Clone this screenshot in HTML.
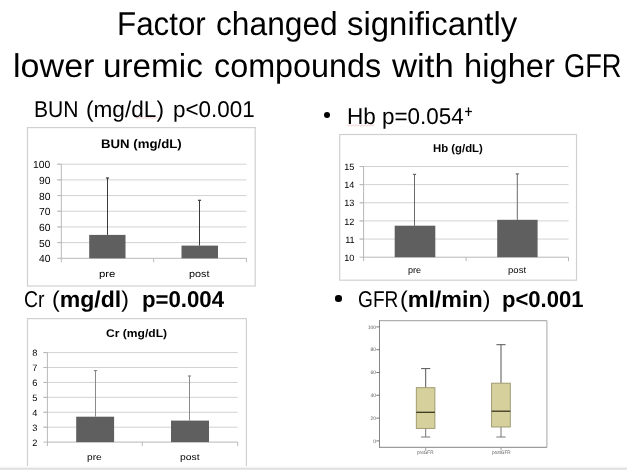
<!DOCTYPE html>
<html><head><meta charset="utf-8"><style>
html,body{margin:0;padding:0;background:#fff;}
body{width:627px;height:470px;position:relative;overflow:hidden;font-family:"Liberation Sans", sans-serif;text-rendering:geometricPrecision;}
.t{position:absolute;white-space:pre;transform-origin:0 0;}
.b{position:absolute;border-radius:50%;background:#000;}
svg{position:absolute;left:0;top:0;}
.band{position:absolute;left:0;width:627px;}
</style></head><body>
<svg width="627" height="470" viewBox="0 0 627 470">
<rect x="27.50" y="127.60" width="227.70" height="158.40" fill="#fff" stroke="#d0d0d0" stroke-width="1.2"/>
<line x1="57.30" y1="164.20" x2="246.40" y2="164.20" stroke="#d2d2d2" stroke-width="1"/>
<line x1="57.30" y1="179.88" x2="246.40" y2="179.88" stroke="#d2d2d2" stroke-width="1"/>
<line x1="57.30" y1="195.57" x2="246.40" y2="195.57" stroke="#d2d2d2" stroke-width="1"/>
<line x1="57.30" y1="211.25" x2="246.40" y2="211.25" stroke="#d2d2d2" stroke-width="1"/>
<line x1="57.30" y1="226.93" x2="246.40" y2="226.93" stroke="#d2d2d2" stroke-width="1"/>
<line x1="57.30" y1="242.62" x2="246.40" y2="242.62" stroke="#d2d2d2" stroke-width="1"/>
<line x1="57.30" y1="164.20" x2="61.30" y2="164.20" stroke="#b8b8b8" stroke-width="1"/>
<line x1="57.30" y1="179.88" x2="61.30" y2="179.88" stroke="#b8b8b8" stroke-width="1"/>
<line x1="57.30" y1="195.57" x2="61.30" y2="195.57" stroke="#b8b8b8" stroke-width="1"/>
<line x1="57.30" y1="211.25" x2="61.30" y2="211.25" stroke="#b8b8b8" stroke-width="1"/>
<line x1="57.30" y1="226.93" x2="61.30" y2="226.93" stroke="#b8b8b8" stroke-width="1"/>
<line x1="57.30" y1="242.62" x2="61.30" y2="242.62" stroke="#b8b8b8" stroke-width="1"/>
<line x1="57.30" y1="258.30" x2="61.30" y2="258.30" stroke="#b8b8b8" stroke-width="1"/>
<line x1="61.30" y1="164.20" x2="61.30" y2="262.30" stroke="#b8b8b8" stroke-width="1"/>
<line x1="61.30" y1="258.30" x2="246.40" y2="258.30" stroke="#b8b8b8" stroke-width="1"/>
<line x1="153.70" y1="258.30" x2="153.70" y2="262.30" stroke="#b8b8b8" stroke-width="1"/>
<line x1="246.40" y1="258.30" x2="246.40" y2="262.30" stroke="#b8b8b8" stroke-width="1"/>
<rect x="89.20" y="234.90" width="36.30" height="23.40" fill="#5f5f5f" stroke="none" stroke-width="1"/>
<line x1="107.50" y1="178.00" x2="107.50" y2="234.90" stroke="#3a3a3a" stroke-width="1"/>
<line x1="105.90" y1="178.00" x2="109.10" y2="178.00" stroke="#3a3a3a" stroke-width="1.2"/>
<rect x="181.50" y="245.60" width="36.50" height="12.70" fill="#5f5f5f" stroke="none" stroke-width="1"/>
<line x1="199.50" y1="200.30" x2="199.50" y2="245.60" stroke="#3a3a3a" stroke-width="1"/>
<line x1="197.90" y1="200.30" x2="201.10" y2="200.30" stroke="#3a3a3a" stroke-width="1.2"/>
<rect x="339.70" y="134.50" width="236.80" height="145.70" fill="#fff" stroke="#d0d0d0" stroke-width="1.2"/>
<line x1="359.60" y1="166.50" x2="568.50" y2="166.50" stroke="#d2d2d2" stroke-width="1"/>
<line x1="359.60" y1="184.64" x2="568.50" y2="184.64" stroke="#d2d2d2" stroke-width="1"/>
<line x1="359.60" y1="202.78" x2="568.50" y2="202.78" stroke="#d2d2d2" stroke-width="1"/>
<line x1="359.60" y1="220.92" x2="568.50" y2="220.92" stroke="#d2d2d2" stroke-width="1"/>
<line x1="359.60" y1="239.06" x2="568.50" y2="239.06" stroke="#d2d2d2" stroke-width="1"/>
<line x1="359.60" y1="166.50" x2="363.60" y2="166.50" stroke="#b8b8b8" stroke-width="1"/>
<line x1="359.60" y1="184.64" x2="363.60" y2="184.64" stroke="#b8b8b8" stroke-width="1"/>
<line x1="359.60" y1="202.78" x2="363.60" y2="202.78" stroke="#b8b8b8" stroke-width="1"/>
<line x1="359.60" y1="220.92" x2="363.60" y2="220.92" stroke="#b8b8b8" stroke-width="1"/>
<line x1="359.60" y1="239.06" x2="363.60" y2="239.06" stroke="#b8b8b8" stroke-width="1"/>
<line x1="359.60" y1="257.20" x2="363.60" y2="257.20" stroke="#b8b8b8" stroke-width="1"/>
<line x1="363.60" y1="166.50" x2="363.60" y2="261.20" stroke="#b8b8b8" stroke-width="1"/>
<line x1="363.60" y1="257.20" x2="568.50" y2="257.20" stroke="#b8b8b8" stroke-width="1"/>
<line x1="466.10" y1="257.20" x2="466.10" y2="261.20" stroke="#b8b8b8" stroke-width="1"/>
<line x1="568.50" y1="257.20" x2="568.50" y2="261.20" stroke="#b8b8b8" stroke-width="1"/>
<rect x="394.70" y="225.70" width="40.60" height="31.50" fill="#5f5f5f" stroke="none" stroke-width="1"/>
<line x1="414.50" y1="174.40" x2="414.50" y2="225.70" stroke="#6a6a6a" stroke-width="1"/>
<line x1="412.90" y1="174.40" x2="416.10" y2="174.40" stroke="#6a6a6a" stroke-width="1.2"/>
<rect x="497.20" y="219.80" width="40.40" height="37.40" fill="#5f5f5f" stroke="none" stroke-width="1"/>
<line x1="517.30" y1="173.90" x2="517.30" y2="219.80" stroke="#6a6a6a" stroke-width="1"/>
<line x1="515.70" y1="173.90" x2="518.90" y2="173.90" stroke="#6a6a6a" stroke-width="1.2"/>
<rect x="27.50" y="318.60" width="218.90" height="148.60" fill="#fff" stroke="#d0d0d0" stroke-width="1.2"/>
<line x1="43.40" y1="352.60" x2="237.70" y2="352.60" stroke="#d2d2d2" stroke-width="1"/>
<line x1="43.40" y1="367.52" x2="237.70" y2="367.52" stroke="#d2d2d2" stroke-width="1"/>
<line x1="43.40" y1="382.43" x2="237.70" y2="382.43" stroke="#d2d2d2" stroke-width="1"/>
<line x1="43.40" y1="397.35" x2="237.70" y2="397.35" stroke="#d2d2d2" stroke-width="1"/>
<line x1="43.40" y1="412.27" x2="237.70" y2="412.27" stroke="#d2d2d2" stroke-width="1"/>
<line x1="43.40" y1="427.18" x2="237.70" y2="427.18" stroke="#d2d2d2" stroke-width="1"/>
<line x1="43.40" y1="352.60" x2="47.40" y2="352.60" stroke="#b8b8b8" stroke-width="1"/>
<line x1="43.40" y1="367.52" x2="47.40" y2="367.52" stroke="#b8b8b8" stroke-width="1"/>
<line x1="43.40" y1="382.43" x2="47.40" y2="382.43" stroke="#b8b8b8" stroke-width="1"/>
<line x1="43.40" y1="397.35" x2="47.40" y2="397.35" stroke="#b8b8b8" stroke-width="1"/>
<line x1="43.40" y1="412.27" x2="47.40" y2="412.27" stroke="#b8b8b8" stroke-width="1"/>
<line x1="43.40" y1="427.18" x2="47.40" y2="427.18" stroke="#b8b8b8" stroke-width="1"/>
<line x1="43.40" y1="442.10" x2="47.40" y2="442.10" stroke="#b8b8b8" stroke-width="1"/>
<line x1="47.40" y1="352.60" x2="47.40" y2="446.10" stroke="#b8b8b8" stroke-width="1"/>
<line x1="47.40" y1="442.10" x2="237.70" y2="442.10" stroke="#b8b8b8" stroke-width="1"/>
<line x1="142.30" y1="442.10" x2="142.30" y2="446.10" stroke="#b8b8b8" stroke-width="1"/>
<line x1="237.70" y1="442.10" x2="237.70" y2="446.10" stroke="#b8b8b8" stroke-width="1"/>
<rect x="76.20" y="416.70" width="37.90" height="25.40" fill="#5f5f5f" stroke="none" stroke-width="1"/>
<line x1="95.50" y1="370.60" x2="95.50" y2="416.70" stroke="#8a8a8a" stroke-width="1"/>
<line x1="93.90" y1="370.60" x2="97.10" y2="370.60" stroke="#8a8a8a" stroke-width="1.2"/>
<rect x="171.00" y="420.60" width="38.00" height="21.50" fill="#5f5f5f" stroke="none" stroke-width="1"/>
<line x1="189.50" y1="376.00" x2="189.50" y2="420.60" stroke="#8a8a8a" stroke-width="1"/>
<line x1="187.90" y1="376.00" x2="191.10" y2="376.00" stroke="#8a8a8a" stroke-width="1.2"/>
<line x1="379.50" y1="320.60" x2="546.90" y2="320.60" stroke="#b0b0b0" stroke-width="1.1"/>
<line x1="546.90" y1="320.60" x2="546.90" y2="447.30" stroke="#b0b0b0" stroke-width="1.1"/>
<line x1="379.50" y1="320.10" x2="379.50" y2="447.30" stroke="#858585" stroke-width="1"/>
<line x1="379.00" y1="447.30" x2="546.90" y2="447.30" stroke="#858585" stroke-width="1"/>
<line x1="376.30" y1="440.90" x2="379.50" y2="440.90" stroke="#6a6a6a" stroke-width="0.9"/>
<line x1="376.30" y1="418.10" x2="379.50" y2="418.10" stroke="#6a6a6a" stroke-width="0.9"/>
<line x1="376.30" y1="395.30" x2="379.50" y2="395.30" stroke="#6a6a6a" stroke-width="0.9"/>
<line x1="376.30" y1="372.50" x2="379.50" y2="372.50" stroke="#6a6a6a" stroke-width="0.9"/>
<line x1="376.30" y1="349.70" x2="379.50" y2="349.70" stroke="#6a6a6a" stroke-width="0.9"/>
<line x1="376.30" y1="326.90" x2="379.50" y2="326.90" stroke="#6a6a6a" stroke-width="0.9"/>
<line x1="425.70" y1="368.60" x2="425.70" y2="387.70" stroke="#555" stroke-width="1"/>
<line x1="425.70" y1="428.40" x2="425.70" y2="437.00" stroke="#777" stroke-width="1"/>
<line x1="421.10" y1="368.60" x2="430.30" y2="368.60" stroke="#555" stroke-width="1"/>
<line x1="421.10" y1="437.00" x2="430.30" y2="437.00" stroke="#777" stroke-width="1"/>
<rect x="416.30" y="387.70" width="18.60" height="40.70" fill="#d6d09d" stroke="#9a946a" stroke-width="0.9"/>
<line x1="416.30" y1="412.30" x2="434.90" y2="412.30" stroke="#35301c" stroke-width="1.25"/>
<line x1="425.70" y1="447.30" x2="425.70" y2="450.00" stroke="#888" stroke-width="0.8"/>
<line x1="501.00" y1="344.70" x2="501.00" y2="383.20" stroke="#555" stroke-width="1"/>
<line x1="501.00" y1="427.00" x2="501.00" y2="437.00" stroke="#777" stroke-width="1"/>
<line x1="496.40" y1="344.70" x2="505.60" y2="344.70" stroke="#555" stroke-width="1"/>
<line x1="496.40" y1="437.00" x2="505.60" y2="437.00" stroke="#777" stroke-width="1"/>
<rect x="491.60" y="383.20" width="18.70" height="43.80" fill="#d6d09d" stroke="#9a946a" stroke-width="0.9"/>
<line x1="491.60" y1="411.20" x2="510.30" y2="411.20" stroke="#35301c" stroke-width="1.25"/>
<line x1="501.00" y1="447.30" x2="501.00" y2="450.00" stroke="#888" stroke-width="0.8"/>
<line x1="465.10" y1="111.50" x2="471.90" y2="111.50" stroke="#000" stroke-width="1.3"/>
<line x1="468.50" y1="107.40" x2="468.50" y2="115.90" stroke="#000" stroke-width="1.3"/>
<polyline points="135.8,117.3 137.3,118.5 138.8,117.3 140.3,118.5 141.8,117.3 143.3,118.5 144.8,117.3 146.3,118.5 147.8,117.3 149.3,118.5 150.8,117.3 152.3,118.5 153.8,117.3 155.3,118.5 156.8,117.3 158.3,118.5" fill="none" stroke="#e9b8b8" stroke-width="0.7"/>
<polyline points="347.2,124.8 348.7,126.0 350.2,124.8 351.7,126.0 353.2,124.8 354.7,126.0 356.2,124.8 357.7,126.0 359.2,124.8 360.7,126.0 362.2,124.8 363.7,126.0 365.2,124.8 366.7,126.0 368.2,124.8 369.7,126.0 371.2,124.8 372.7,126.0 374.2,124.8" fill="none" stroke="#e9b8b8" stroke-width="0.7"/>
</svg>
<div id="tx" style="position:absolute;left:0;top:0;width:627px;height:470px;filter:grayscale(1)">
<div class="t" style="left:116.95px;top:7px;font-size:33px;line-height:33px;transform:scaleX(0.9489);color:#000">Factor</div>
<div class="t" style="left:216.14px;top:7px;font-size:33px;line-height:33px;transform:scaleX(0.9613);color:#000">changed</div>
<div class="t" style="left:347.20px;top:7px;font-size:33px;line-height:33px;transform:scaleX(0.9976);color:#000">significantly</div>
<div class="t" style="left:12.93px;top:49px;font-size:33px;line-height:33px;transform:scaleX(1.0329);color:#000">lower</div>
<div class="t" style="left:103.48px;top:49px;font-size:33px;line-height:33px;transform:scaleX(1.0083);color:#000">uremic</div>
<div class="t" style="left:214.02px;top:49px;font-size:33px;line-height:33px;transform:scaleX(0.9804);color:#000">compounds</div>
<div class="t" style="left:391.70px;top:49px;font-size:33px;line-height:33px;transform:scaleX(1.0526);color:#000">with</div>
<div class="t" style="left:463.52px;top:49px;font-size:33px;line-height:33px;transform:scaleX(0.9910);color:#000">higher</div>
<div class="t" style="left:564.45px;top:49px;font-size:33px;line-height:33px;transform:scaleX(0.8258);color:#000">GFR</div>
<div class="t" style="left:34.05px;top:98px;font-size:22.8px;line-height:22.8px;transform:scaleX(0.9244);color:#000">BUN</div>
<div class="t" style="left:86.41px;top:98px;font-size:22.8px;line-height:22.8px;transform:scaleX(0.9921);color:#000">(mg/dL)</div>
<div class="t" style="left:172.92px;top:98px;font-size:22.8px;line-height:22.8px;transform:scaleX(0.9840);color:#000">p&lt;0.001</div>
<div class="t" style="left:347.12px;top:105px;font-size:22.8px;line-height:22.8px;transform:scaleX(0.9885);color:#000">Hb</div>
<div class="t" style="left:382.42px;top:105px;font-size:22.8px;line-height:22.8px;transform:scaleX(0.9840);color:#000">p=0.054</div>
<div class="t" style="left:23.95px;top:288px;font-size:22.8px;line-height:22.8px;transform:scaleX(0.8522);color:#000">Cr</div>
<div class="t" style="left:51.99px;top:288px;font-size:22.8px;line-height:22.8px;transform:scaleX(1.0122);color:#000">(<b>mg/dl</b>)</div>
<div class="t" style="left:142.23px;top:288px;font-size:22.8px;line-height:22.8px;transform:scaleX(0.9735);color:#000"><b>p=0.004</b></div>
<div class="t" style="left:358.26px;top:288px;font-size:22.8px;line-height:22.8px;transform:scaleX(0.8391);color:#000">GFR</div>
<div class="t" style="left:399.58px;top:288px;font-size:22.8px;line-height:22.8px;transform:scaleX(1.0198);color:#000">(<b>ml/min</b>)</div>
<div class="t" style="left:502.13px;top:288px;font-size:22.8px;line-height:22.8px;transform:scaleX(0.9663);color:#000"><b>p&lt;0.001</b></div>
<div class="t" style="left:100.83px;top:138px;font-size:12.4px;line-height:12.4px;transform:scaleX(1.0662);color:#000"><b>BUN (mg/dL)</b></div>
<div class="t" style="left:432.79px;top:144px;font-size:11.2px;line-height:11.2px;transform:scaleX(1.0146);color:#000"><b>Hb (g/dL)</b></div>
<div class="t" style="left:106.10px;top:329px;font-size:11.2px;line-height:11.2px;transform:scaleX(1.0804);color:#000"><b>Cr (mg/dL)</b></div>
<div class="t" style="left:98.72px;top:270px;font-size:9.6px;line-height:9.6px;transform:scaleX(1.1833);color:#000">pre</div>
<div class="t" style="left:188.67px;top:270px;font-size:9.6px;line-height:9.6px;transform:scaleX(1.1294);color:#000">post</div>
<div class="t" style="left:407.89px;top:266px;font-size:9.0px;line-height:9.0px;transform:scaleX(1.0083);color:#000">pre</div>
<div class="t" style="left:507.84px;top:266px;font-size:9.0px;line-height:9.0px;transform:scaleX(1.0625);color:#000">post</div>
<div class="t" style="left:87.17px;top:453px;font-size:9.0px;line-height:9.0px;transform:scaleX(1.1333);color:#000">pre</div>
<div class="t" style="left:179.84px;top:453px;font-size:9.0px;line-height:9.0px;transform:scaleX(1.1562);color:#000">post</div>
<div class="t" style="left:33.10px;top:161px;font-size:10.3px;line-height:10.3px;color:#000">100</div>
<div class="t" style="left:39.10px;top:177px;font-size:10.3px;line-height:10.3px;color:#000">90</div>
<div class="t" style="left:39.10px;top:193px;font-size:10.3px;line-height:10.3px;color:#000">80</div>
<div class="t" style="left:39.10px;top:208px;font-size:10.3px;line-height:10.3px;color:#000">70</div>
<div class="t" style="left:39.10px;top:224px;font-size:10.3px;line-height:10.3px;color:#000">60</div>
<div class="t" style="left:39.10px;top:240px;font-size:10.3px;line-height:10.3px;color:#000">50</div>
<div class="t" style="left:39.10px;top:255px;font-size:10.3px;line-height:10.3px;color:#000">40</div>
<div class="t" style="left:344.20px;top:163px;font-size:9.1px;line-height:9.1px;color:#000">15</div>
<div class="t" style="left:344.20px;top:181px;font-size:9.1px;line-height:9.1px;color:#000">14</div>
<div class="t" style="left:344.20px;top:199px;font-size:9.1px;line-height:9.1px;color:#000">13</div>
<div class="t" style="left:344.20px;top:218px;font-size:9.1px;line-height:9.1px;color:#000">12</div>
<div class="t" style="left:345.20px;top:236px;font-size:9.1px;line-height:9.1px;color:#000">11</div>
<div class="t" style="left:344.20px;top:254px;font-size:9.1px;line-height:9.1px;color:#000">10</div>
<div class="t" style="left:32.20px;top:349px;font-size:9.2px;line-height:9.2px;color:#000">8</div>
<div class="t" style="left:32.20px;top:364px;font-size:9.2px;line-height:9.2px;color:#000">7</div>
<div class="t" style="left:32.20px;top:379px;font-size:9.2px;line-height:9.2px;color:#000">6</div>
<div class="t" style="left:32.20px;top:394px;font-size:9.2px;line-height:9.2px;color:#000">5</div>
<div class="t" style="left:32.20px;top:409px;font-size:9.2px;line-height:9.2px;color:#000">4</div>
<div class="t" style="left:32.20px;top:424px;font-size:9.2px;line-height:9.2px;color:#000">3</div>
<div class="t" style="left:32.20px;top:439px;font-size:9.2px;line-height:9.2px;color:#000">2</div>
<div class="t" style="right:251.0px;top:439.50px;font-size:5px;line-height:5px;color:#5a5a5a">0</div>
<div class="t" style="right:251.0px;top:416.70px;font-size:5px;line-height:5px;color:#5a5a5a">20</div>
<div class="t" style="right:251.0px;top:393.90px;font-size:5px;line-height:5px;color:#5a5a5a">40</div>
<div class="t" style="right:251.0px;top:371.10px;font-size:5px;line-height:5px;color:#5a5a5a">60</div>
<div class="t" style="right:251.0px;top:348.30px;font-size:5px;line-height:5px;color:#5a5a5a">80</div>
<div class="t" style="right:251.0px;top:325.50px;font-size:5px;line-height:5px;color:#5a5a5a">100</div>
<div class="t" style="left:417.0px;top:450.7px;font-size:5px;line-height:5px;color:#5a5a5a;transform:scaleX(0.93)">preGFR</div>
<div class="t" style="left:491.6px;top:450.7px;font-size:5px;line-height:5px;color:#5a5a5a;transform:scaleX(0.93)">postGFR</div>
</div>
<div class="b" style="left:323.9px;top:112.1px;width:6.4px;height:6.4px"></div>
<div class="b" style="left:335.4px;top:295.3px;width:6.4px;height:6.4px"></div>
<div class="band" style="top:466px;height:1px;background:#fbfbfb"></div>
<div class="band" style="top:467px;height:1px;background:#f6f6f6"></div>
<div class="band" style="top:468px;height:1px;background:#dddddd"></div>
<div class="band" style="top:469px;height:1px;background:#e8e8e8"></div>
</body></html>
